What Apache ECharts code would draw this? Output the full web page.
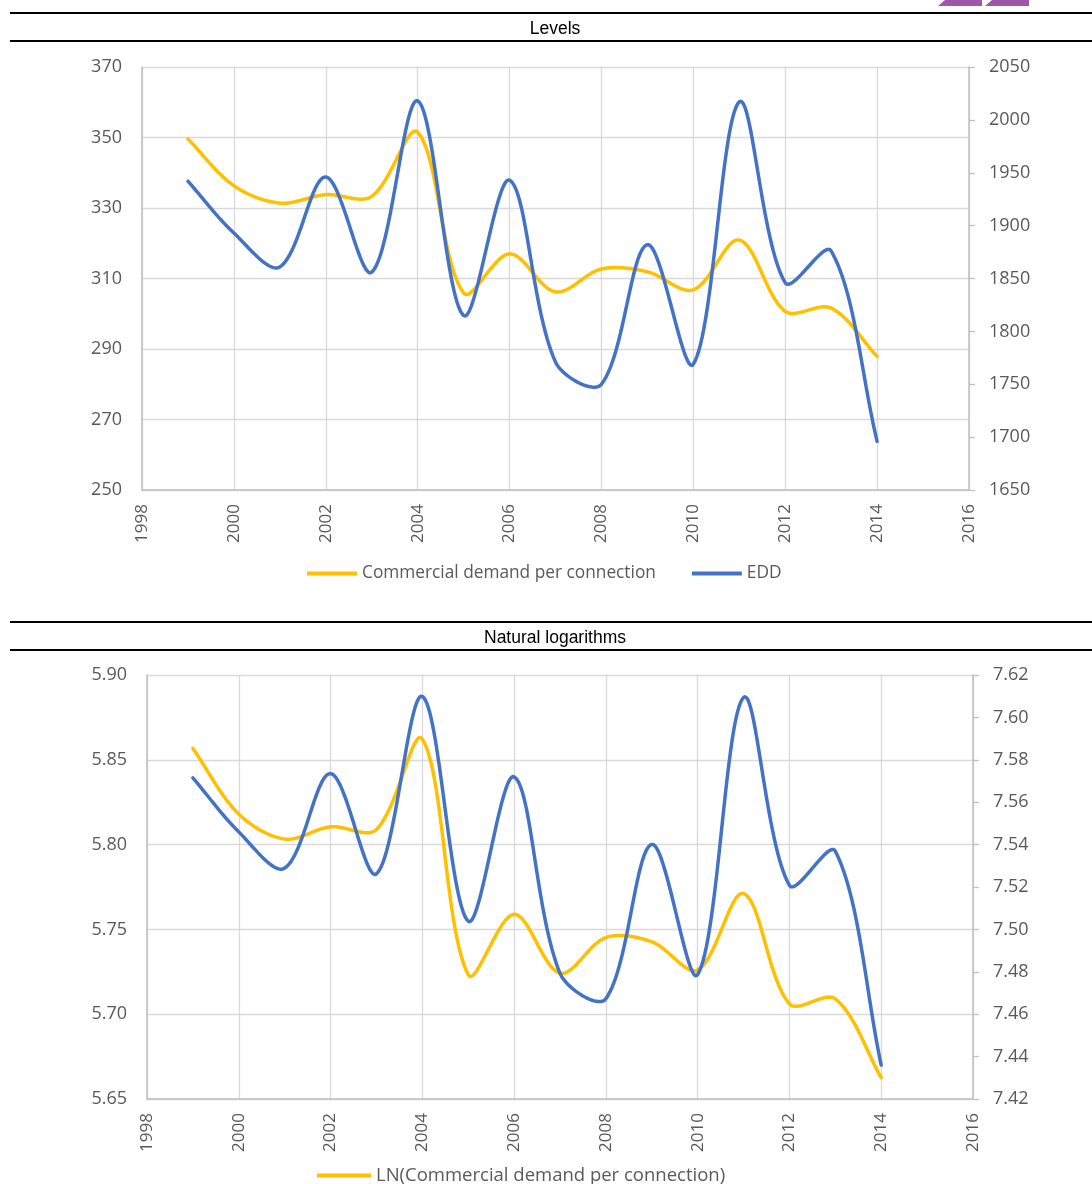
<!DOCTYPE html>
<html>
<head>
<meta charset="utf-8">
<title>Commercial demand per connection and EDD</title>
<script src="https://cdn.jsdelivr.net/npm/echarts@6/dist/echarts.min.js"></script>
<style>
  html, body { margin: 0; padding: 0; background: #ffffff; }
  #chart { width: 1092px; height: 1184px; }
</style>
</head>
<body>
<div id="chart"></div>
<script>
// Annual observations
const years = [1999, 2000, 2001, 2002, 2003, 2004, 2005, 2006, 2007, 2008, 2009, 2010, 2011, 2012, 2013, 2014];

// Levels
const demandLevel = [349.6, 336.3, 331.4, 333.8, 333.3, 351.5, 305.9, 317.0, 306.2, 312.7, 311.9, 306.8, 320.9, 300.7, 301.6, 287.9];
const eddLevel = [1942, 1893, 1861, 1946, 1856, 2018, 1815, 1943, 1771, 1750, 1882, 1769, 2017, 1846, 1876, 1696];

// Natural logarithms
const demandLn = [5.8567, 5.8180, 5.8033, 5.8105, 5.8089, 5.8622, 5.7233, 5.7589, 5.7242, 5.7452, 5.7427, 5.7261, 5.7711, 5.7061, 5.7090, 5.6626];
const eddLn = [7.5715, 7.5460, 7.5289, 7.5735, 7.5262, 7.6099, 7.5039, 7.5720, 7.4793, 7.4673, 7.5401, 7.4787, 7.6094, 7.5208, 7.5369, 7.4360];

// Axis ranges: [min, max, interval]
const yearAxis = [1998, 2016, 2];
const levelLeftAxis = [250, 370, 20];
const levelRightAxis = [1650, 2050, 50];
const lnLeftAxis = [5.65, 5.90, 0.05];
const lnRightAxis = [7.42, 7.62, 0.02];

const names = {
  demand: 'Commercial demand per connection',
  edd: 'EDD',
  demandLn: 'LN(Commercial demand per connection)',
  eddLn: 'LN(EDD)'
};

const YELLOW = '#FFC000';
const BLUE = '#4472C4';
const GRID_LINE = '#d9d9d9';
const AXIS_LINE = '#bfbfbf';
const LABEL = '#595959';
const FONT = '"Open Sans", "Noto Sans", sans-serif';

const pairs = (vals) => years.map((y, i) => [y, vals[i]]);

// Chord-length weighted cubic spline through pixel points, sampled into a dense polyline
function splinePoints(pts, steps) {
  const dist = (a, b) => Math.hypot(b[0] - a[0], b[1] - a[1]);
  const out = [];
  const n = pts.length;
  for (let i = 0; i < n - 1; i++) {
    const p0 = pts[Math.max(i - 1, 0)];
    const p1 = pts[i];
    const p2 = pts[i + 1];
    const p3 = pts[Math.min(i + 2, n - 1)];
    const d01 = dist(p0, p1), d12 = dist(p1, p2), d23 = dist(p2, p3);
    const f1 = (d01 + d12) > 0 ? (2 * d12 / (d01 + d12)) / 6 : 0;
    const f2 = (d12 + d23) > 0 ? (2 * d12 / (d12 + d23)) / 6 : 0;
    const c1 = [p1[0] + (p2[0] - p0[0]) * f1, p1[1] + (p2[1] - p0[1]) * f1];
    const c2 = [p2[0] - (p3[0] - p1[0]) * f2, p2[1] - (p3[1] - p1[1]) * f2];
    for (let s = 0; s < steps; s++) {
      const t = s / steps, u = 1 - t;
      const a = u * u * u, b = 3 * u * u * t, c = 3 * u * t * t, d = t * t * t;
      out.push([
        a * p1[0] + b * c1[0] + c * c2[0] + d * p2[0],
        a * p1[1] + b * c1[1] + c * c2[1] + d * p2[1]
      ]);
    }
  }
  out.push(pts[n - 1]);
  return out;
}

function xAxisFor(gridIndex) {
  return {
    type: 'value', gridIndex,
    min: yearAxis[0], max: yearAxis[1], interval: yearAxis[2],
    axisLine: { show: true, lineStyle: { color: AXIS_LINE, width: 1.5 } },
    axisTick: { show: false },
    splitLine: { show: true, lineStyle: { color: GRID_LINE, width: 1.3 } },
    axisLabel: { rotate: 90, margin: 14, color: LABEL, fontSize: 17, fontFamily: FONT, formatter: (v) => String(v) }
  };
}

function yAxisFor(gridIndex, range, position, decimals) {
  const right = position === 'right';
  return {
    type: 'value', gridIndex, position,
    min: range[0], max: range[1], interval: range[2],
    axisLine: { show: true, lineStyle: { color: AXIS_LINE, width: 1.5 } },
    axisTick: { show: right, length: 6, lineStyle: { color: AXIS_LINE, width: 1.3 } },
    splitLine: { show: !right, lineStyle: { color: GRID_LINE, width: 1.3 } },
    axisLabel: { margin: 20, color: LABEL, fontSize: 18, fontFamily: FONT, formatter: (v) => v.toFixed(decimals) }
  };
}

function smoothSeries(name, color, xi, yi, vals) {
  return {
    name, type: 'custom', xAxisIndex: xi, yAxisIndex: yi,
    data: pairs(vals),
    encode: { x: 0, y: 1 },
    itemStyle: { color },
    clip: false,
    animation: false,
    renderItem: (params, api) => {
      if (params.dataIndex !== 0) return null;
      const pts = years.map((y, i) => api.coord([y, vals[i]]));
      return {
        type: 'polyline',
        shape: { points: splinePoints(pts, 32) },
        style: { stroke: color, lineWidth: 3.5, fill: null, lineJoin: 'round', lineCap: 'round' }
      };
    }
  };
}

function header(y1, y2, text) {
  return [
    { type: 'line', shape: { x1: 10, y1, x2: 1092, y2: y1 }, style: { stroke: '#000', lineWidth: 2 } },
    { type: 'line', shape: { x1: 10, y1: y2, x2: 1092, y2 }, style: { stroke: '#000', lineWidth: 2 } },
    { type: 'text', x: 555, y: (y1 + y2) / 2 + 2,
      style: { text, fill: '#000', font: '17.5px "Liberation Sans", Arial, sans-serif', textAlign: 'center', textVerticalAlign: 'middle' } }
  ];
}

const chart = echarts.init(document.getElementById('chart'), null, { renderer: 'canvas' });

chart.setOption({
  backgroundColor: '#ffffff',
  animation: false,
  grid: [
    { left: 142, top: 67, width: 827, height: 423 },
    { left: 147, top: 675, width: 826, height: 424 }
  ],
  xAxis: [xAxisFor(0), xAxisFor(1)],
  yAxis: [
    yAxisFor(0, levelLeftAxis, 'left', 0),
    yAxisFor(0, levelRightAxis, 'right', 0),
    yAxisFor(1, lnLeftAxis, 'left', 2),
    yAxisFor(1, lnRightAxis, 'right', 2)
  ],
  legend: [
    {
      data: [names.demand, names.edd], left: 307, top: 565, padding: 0,
      icon: 'rect', itemWidth: 50, itemHeight: 4, itemGap: 36,
      textStyle: { color: LABEL, fontSize: 17.3, fontFamily: FONT }
    },
    {
      data: [names.demandLn, names.eddLn], left: 317, top: 1166, padding: 0, width: 460,
      icon: 'rect', itemWidth: 54, itemHeight: 4, itemGap: 38,
      textStyle: { color: LABEL, fontSize: 18.5, fontFamily: FONT }
    }
  ],
  series: [
    smoothSeries(names.demand, YELLOW, 0, 0, demandLevel),
    smoothSeries(names.edd, BLUE, 0, 1, eddLevel),
    smoothSeries(names.demandLn, YELLOW, 1, 2, demandLn),
    smoothSeries(names.eddLn, BLUE, 1, 3, eddLn)
  ],
  graphic: [
    // corner logo mark
    { type: 'polygon', shape: { points: [[945, 0], [982, 0], [982, 6], [938, 6]] }, style: { fill: '#9E57A8' } },
    { type: 'polygon', shape: { points: [[992, 0], [1029, 0], [1029, 6], [985, 6]] }, style: { fill: '#9E57A8' } },
    ...header(13, 41, 'Levels'),
    ...header(622, 650, 'Natural logarithms')
  ]
});
</script>
</body>
</html>
